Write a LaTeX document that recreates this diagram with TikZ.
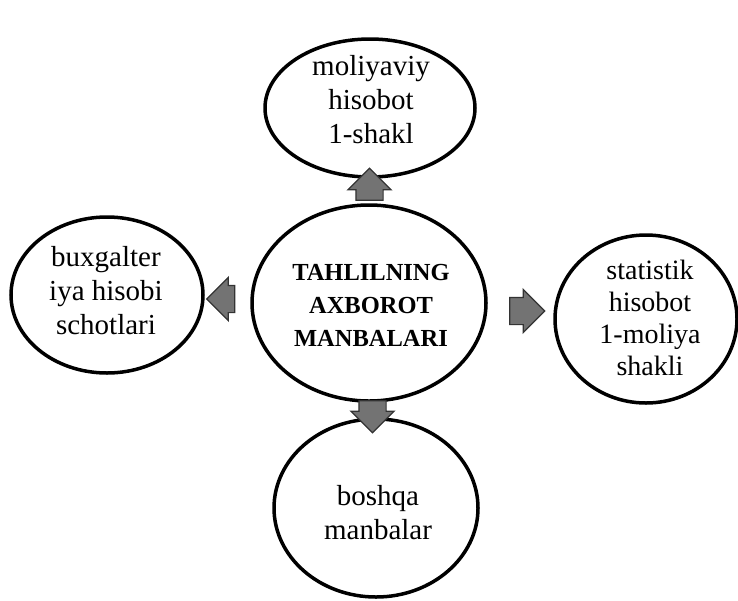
\documentclass[tikz,border=0pt]{standalone}
\usepackage{fontspec}
\setmainfont{Liberation Serif}
\usetikzlibrary{shapes.geometric,shapes.arrows,calc}
\tikzset{
  oval/.style={ellipse, draw=black, line width=3.5pt, inner sep=0pt},
  txt/.style={align=center, font=\fontsize{29}{34}\selectfont, inner sep=0pt},
  ctxt/.style={align=center, font=\fontsize{24.5}{33}\selectfont\bfseries, inner sep=0pt},
  blockarrow/.style={single arrow, fill=black!55, draw=black!80, line width=1.2pt,
    inner xsep=0pt, inner ysep=13pt, minimum height=32pt,
    single arrow head extend=8pt}
}
\begin{document}
\begin{tikzpicture}[x=1pt,y=-1pt]
\useasboundingbox (0,0) rectangle (738,600);
\node[oval, minimum width=234pt, minimum height=196pt] (c) at (369,303) {};
\node[oval, minimum width=210pt, minimum height=138pt] (top) at (370,108) {};
\node[oval, minimum width=192pt, minimum height=156pt] (lft) at (107,295) {};
\node[oval, minimum width=182pt, minimum height=168pt] (rgt) at (646,319) {};
\node[oval, minimum width=204pt, minimum height=178pt] (bot) at (376,508) {};

\node[ctxt] (ct) at (371,305) {TAHLILNING\\AXBOROT\\MANBALARI};
\node[txt] (tt) at (371,100) {moliyaviy\\hisobot\\1-shakl};
\node[txt] (lt) at (106,291) {buxgalter\\iya hisobi\\schotlari};
\node[txt, font=\fontsize{28}{32}\selectfont] (rt) at (650,318) {statistik\\hisobot\\1-moliya\\shakli};
\node[txt] (bt) at (378,513) {boshqa\\manbalar};

\node[blockarrow, rotate=90] (a1) at ($(c.north)!0.5!(top.south)$) {};
\node[blockarrow, rotate=180, minimum height=28pt] (a2) at ($(c.west)!0.5!(lft.east)$) {};
\node[blockarrow, minimum height=35pt] (a3) at ($(c.east)!0.5!(rgt.west)$) {};
\node[blockarrow, rotate=-90] (a4) at ($(c.south)!0.5!(bot.north)$) {};
\end{tikzpicture}
\end{document}
